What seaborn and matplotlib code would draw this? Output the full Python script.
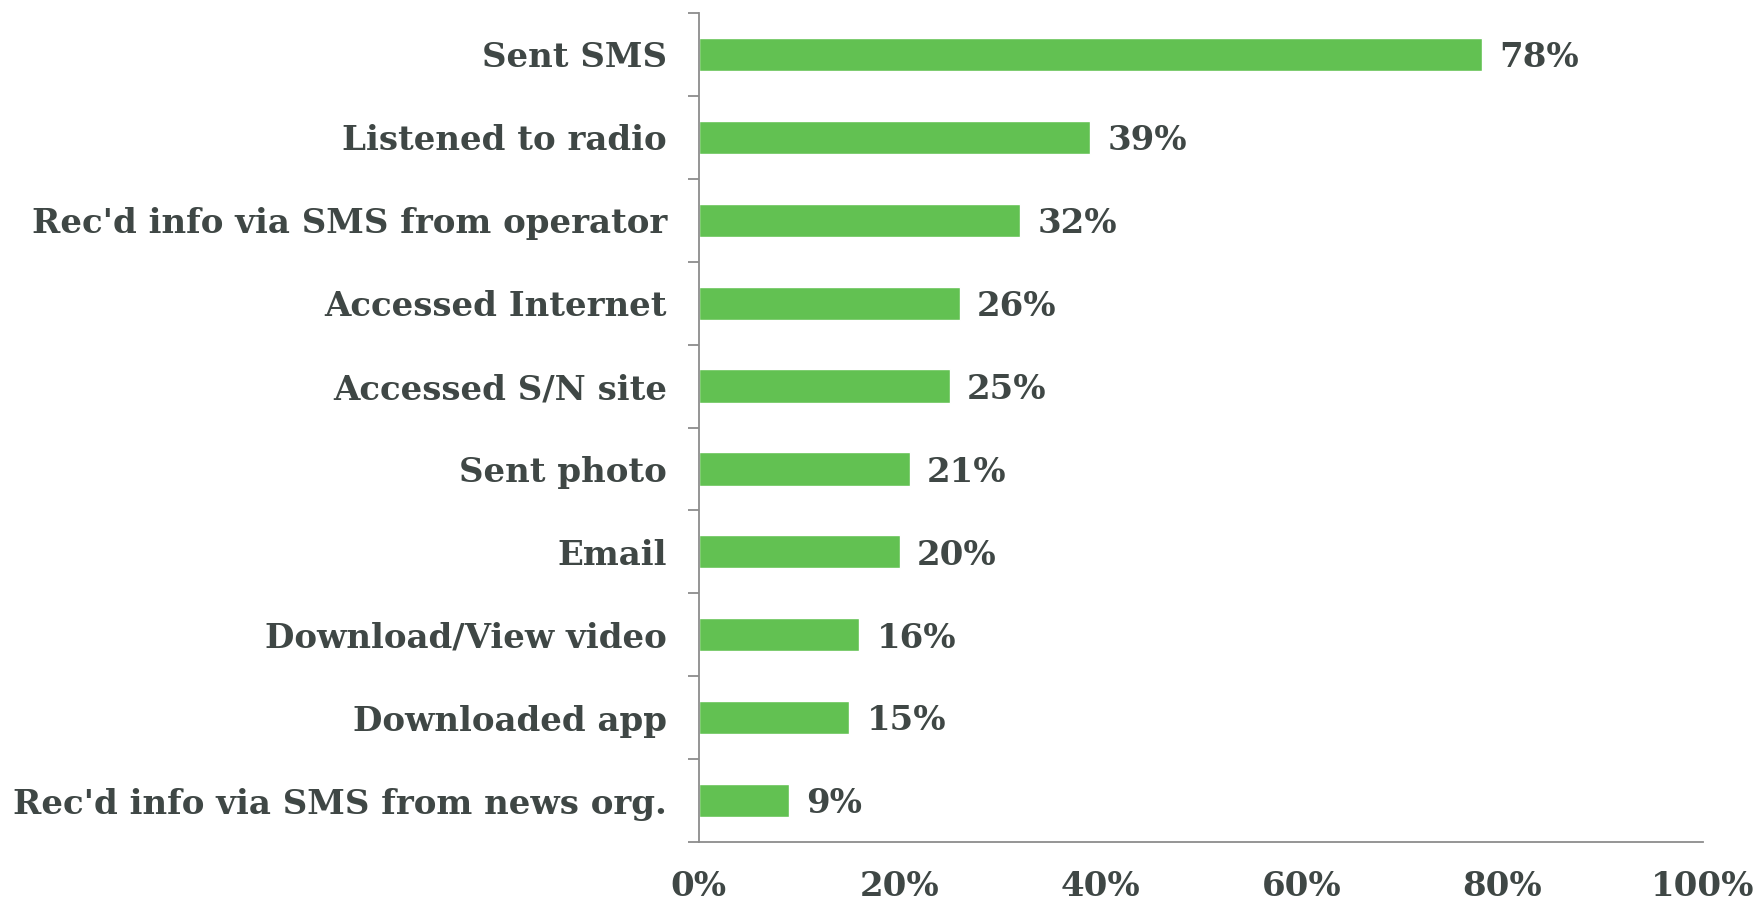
import matplotlib
matplotlib.use("Agg")
import matplotlib.pyplot as plt
import seaborn as sns
import pandas as pd
from matplotlib.ticker import FixedLocator, PercentFormatter

activities = [
    "Sent SMS",
    "Listened to radio",
    "Rec'd info via SMS from operator",
    "Accessed Internet",
    "Accessed S/N site",
    "Sent photo",
    "Email",
    "Download/View video",
    "Downloaded app",
    "Rec'd info via SMS from news org.",
]
shares = [78, 39, 32, 26, 25, 21, 20, 16, 15, 9]
x_ticks = [0, 20, 40, 60, 80, 100]

df = pd.DataFrame({"activity": activities, "share": shares})

sns.set_theme(style="white")
plt.rcParams["font.family"] = ["DejaVu Serif"]
plt.rcParams["font.weight"] = "bold"

text_color = "#3f4745"
bar_color = "#62c152"
axis_color = "#8c8c8c"
fs = 24.5

fig = plt.figure(figsize=(17.6, 9.05), dpi=100)
ax = fig.add_axes([0.397, 0.0696, 0.5706, 0.916])

sns.barplot(data=df, x="share", y="activity", orient="h", color=bar_color,
            width=0.4, saturation=1, ax=ax)

ax.set_xlim(0, 100)
ax.set_ylim(len(activities) - 0.5, -0.5)
ax.set_xlabel("")
ax.set_ylabel("")

for spine in ["top", "right"]:
    ax.spines[spine].set_visible(False)
for spine in ["left", "bottom"]:
    ax.spines[spine].set_color(axis_color)
    ax.spines[spine].set_linewidth(1.3)

ax.xaxis.set_major_locator(FixedLocator(x_ticks))
ax.xaxis.set_major_formatter(PercentFormatter(decimals=0))
ax.tick_params(axis="x", which="major", direction="out", length=8, width=1.3,
               color=axis_color, labelsize=fs, labelcolor=text_color, pad=12)

ax.yaxis.set_minor_locator(FixedLocator([i - 0.5 for i in range(len(activities) + 1)]))
ax.tick_params(axis="y", which="major", length=0, labelsize=fs,
               labelcolor=text_color, pad=23)
ax.tick_params(axis="y", which="minor", direction="out", length=8, width=1.3,
               color=axis_color, left=True)

for lbl in ax.get_xticklabels() + ax.get_yticklabels():
    lbl.set_fontweight("bold")

for i, v in enumerate(shares):
    ax.text(v + 1.7, i + 0.04, f"{v}%", va="center", ha="left", fontsize=fs,
            fontweight="bold", color=text_color)

fig.savefig("out.png", dpi=100)
